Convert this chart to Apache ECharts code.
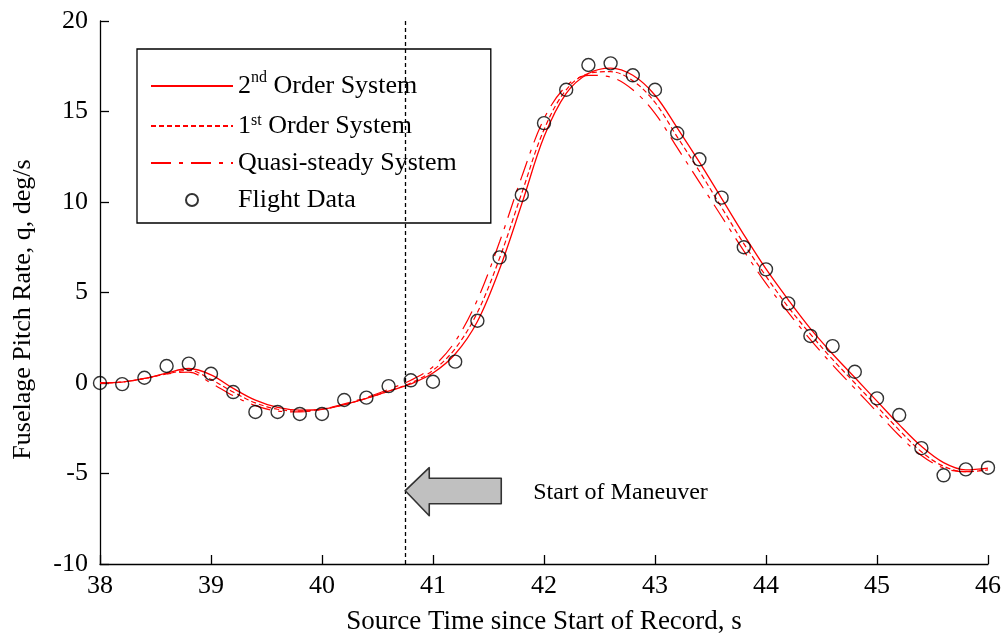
<!DOCTYPE html>
<html>
<head>
<meta charset="utf-8">
<script src="https://cdn.jsdelivr.net/npm/echarts@6/dist/echarts.min.js"></script>
<style>
  html, body { margin: 0; padding: 0; background: #fff; }
  #chart { width: 1006px; height: 640px; }
</style>
</head>
<body>
<div id="chart"></div>
<script>
// ---- Data ----
const modelTime = [38.0, 38.2, 38.4, 38.6, 38.8, 39.0, 39.2, 39.4, 39.6, 39.8,
                   40.0, 40.2, 40.4, 40.6, 40.8, 41.0, 41.2, 41.4, 41.6, 41.8,
                   42.0, 42.2, 42.4, 42.6, 42.8, 43.0, 43.2, 43.4, 43.6, 43.8,
                   44.0, 44.2, 44.4, 44.6, 44.8, 45.0, 45.2, 45.4, 45.6, 45.8, 46.0];
const secondOrder = [0.0, 0.05, 0.25, 0.55, 0.8, 0.45, -0.3, -0.95, -1.35, -1.5,
                     -1.45, -1.2, -0.85, -0.45, -0.05, 0.55, 1.6, 3.4, 6.3, 9.9,
                     13.6, 16.0, 17.1, 17.4, 17.0, 15.9, 14.1, 12.2, 10.2, 8.2,
                     6.3, 4.6, 3.0, 1.6, 0.3, -1.0, -2.3, -3.5, -4.4, -4.8, -4.7];
const firstOrder = [0.0, 0.05, 0.25, 0.5, 0.7, 0.2, -0.5, -1.1, -1.45, -1.55,
                    -1.45, -1.2, -0.85, -0.45, 0.0, 0.7, 1.9, 3.9, 6.9, 10.5,
                    14.0, 16.2, 17.1, 17.2, 16.7, 15.5, 13.6, 11.7, 9.7, 7.7,
                    5.9, 4.2, 2.7, 1.3, 0.0, -1.3, -2.6, -3.8, -4.6, -4.9, -4.8];
const quasiSteady = [0.0, 0.05, 0.25, 0.5, 0.6, 0.0, -0.7, -1.25, -1.55, -1.6,
                     -1.45, -1.15, -0.8, -0.35, 0.15, 0.9, 2.3, 4.6, 7.8, 11.4,
                     14.6, 16.4, 17.0, 16.9, 16.2, 14.9, 13.0, 11.1, 9.2, 7.3,
                     5.5, 3.9, 2.4, 1.0, -0.3, -1.6, -2.9, -4.0, -4.7, -4.9, -4.75];
const flightTime = [38.0, 38.2, 38.4, 38.6, 38.8, 39.0, 39.2, 39.4, 39.6, 39.8,
                    40.0, 40.2, 40.4, 40.6, 40.8, 41.0, 41.2, 41.4, 41.6, 41.8,
                    42.0, 42.2, 42.4, 42.6, 42.8, 43.0, 43.2, 43.4, 43.6, 43.8,
                    44.0, 44.2, 44.4, 44.6, 44.8, 45.0, 45.2, 45.4, 45.6, 45.8, 46.0];
const flightQ = [0.0, -0.06, 0.29, 0.94, 1.07, 0.51, -0.5, -1.6, -1.6, -1.71,
                 -1.71, -0.94, -0.81, -0.17, 0.15, 0.07, 1.18, 3.44, 6.94, 10.39,
                 14.36, 16.2, 17.57, 17.66, 17.0, 16.2, 13.8, 12.36, 10.24, 7.5,
                 6.28, 4.4, 2.6, 2.04, 0.62, -0.85, -1.77, -3.6, -5.1, -4.77, -4.68];
const seriesNames = ['2nd Order System', '1st Order System', 'Quasi-steady System', 'Flight Data'];
const maneuverStart = 40.75;
const arrowTip = [40.75, -5.95];
const annotationText = 'Start of Maneuver';
const xTitle = 'Source Time since Start of Record, s';
const yTitle = 'Fuselage Pitch Rate, q, deg/s';

const FONT = '"Liberation Serif", "Times New Roman", serif';
const zip = (xs, ys) => xs.map((x, i) => [x, ys[i]]);

const chart = echarts.init(document.getElementById('chart'), null, { renderer: 'canvas' });

const legendLabels = {
  '2nd Order System': '2{sup|nd} Order System{gap|}',
  '1st Order System': '1{sup|st} Order System'
};
const hiddenSymbol = { color: 'rgba(0,0,0,0)', borderColor: 'rgba(0,0,0,0)', borderWidth: 0, opacity: 0 };

chart.setOption({
  animation: false,
  backgroundColor: '#fff',
  textStyle: { fontFamily: FONT },
  grid: { left: 100, right: 18, top: 21, bottom: 76, containLabel: false },
  xAxis: {
    type: 'value', min: 38, max: 46, interval: 1,
    name: xTitle, nameLocation: 'middle', nameGap: 44,
    nameTextStyle: { fontFamily: FONT, fontSize: 27, color: '#000' },
    axisLine: { onZero: false, lineStyle: { color: '#000', width: 1.3 } },
    axisTick: { inside: true, length: 9, lineStyle: { color: '#000', width: 1.3 } },
    axisLabel: { color: '#000', fontFamily: FONT, fontSize: 26, margin: 9 },
    splitLine: { show: false }
  },
  yAxis: {
    type: 'value', min: -10, max: 20, interval: 5,
    name: yTitle, nameLocation: 'middle', nameGap: 64, nameRotate: 90,
    nameTextStyle: { fontFamily: FONT, fontSize: 26, color: '#000', padding: [0, 34, 0, 0] },
    axisLine: { show: true, lineStyle: { color: '#000', width: 1.3 } },
    axisTick: { show: true, inside: true, length: 9, lineStyle: { color: '#000', width: 1.3 } },
    axisLabel: { color: '#000', fontFamily: FONT, fontSize: 26, margin: 12 },
    splitLine: { show: false }
  },
  legend: {
    left: 137, top: 49, orient: 'vertical',
    padding: [21, 34, 10, 13],
    itemGap: 11, itemWidth: 82, itemHeight: 12,
    backgroundColor: '#fff', borderColor: '#000', borderWidth: 1.3,
    data: [
      { name: seriesNames[0], itemStyle: hiddenSymbol },
      { name: seriesNames[1], itemStyle: hiddenSymbol },
      { name: seriesNames[2], itemStyle: hiddenSymbol },
      { name: seriesNames[3] }
    ],
    formatter: name => legendLabels[name] || name,
    textStyle: {
      fontFamily: FONT, fontSize: 26, color: '#000', lineHeight: 26,
      rich: {
        sup: { fontFamily: FONT, fontSize: 16, color: '#000', verticalAlign: 'top' },
        gap: { fontSize: 26, lineHeight: 32, verticalAlign: 'top' }
      }
    }
  },
  series: [
    {
      name: seriesNames[0], type: 'line', data: zip(modelTime, secondOrder),
      smooth: 0.35, symbol: 'none', z: 3,
      lineStyle: { color: '#ff0000', width: 1.3, type: 'solid' },
      itemStyle: { color: '#ff0000' },
      markLine: {
        silent: true, symbol: ['none', 'none'], label: { show: false },
        lineStyle: { color: '#000', width: 1.3, type: [4, 3] },
        data: [{ xAxis: maneuverStart }]
      }
    },
    {
      name: seriesNames[1], type: 'line', data: zip(modelTime, firstOrder),
      smooth: 0.35, symbol: 'none', z: 3,
      lineStyle: { color: '#ff0000', width: 1.2, type: [5, 3] },
      itemStyle: { color: '#ff0000' }
    },
    {
      name: seriesNames[2], type: 'line', data: zip(modelTime, quasiSteady),
      smooth: 0.35, symbol: 'none', z: 3,
      lineStyle: { color: '#ff0000', width: 1.2, type: [20, 8, 4, 8] },
      itemStyle: { color: '#ff0000' }
    },
    {
      name: seriesNames[3], type: 'scatter', data: zip(flightTime, flightQ),
      symbol: 'circle', symbolSize: 13, z: 4,
      itemStyle: { color: 'rgba(0,0,0,0)', borderColor: '#000', borderWidth: 1.4 }
    }
  ]
});

// Annotation arrow anchored at data coordinates
const tip = chart.convertToPixel({ gridIndex: 0 }, arrowTip);
chart.setOption({
  graphic: [
    {
      type: 'polygon', z: 10,
      shape: { points: [[tip[0], tip[1]], [tip[0] + 24, tip[1] - 23], [tip[0] + 24, tip[1] - 12.5],
                        [tip[0] + 96, tip[1] - 12.5], [tip[0] + 96, tip[1] + 13], [tip[0] + 24, tip[1] + 13],
                        [tip[0] + 24, tip[1] + 25]] },
      style: { fill: '#c0c0c0', stroke: '#333', lineWidth: 1.6, lineJoin: 'round' }
    },
    {
      type: 'text', z: 10, x: tip[0] + 128, y: tip[1] + 2,
      style: { text: annotationText, fontFamily: FONT, fontSize: 24, fill: '#000',
               textAlign: 'left', textVerticalAlign: 'middle' }
    }
  ]
});
</script>
</body>
</html>
